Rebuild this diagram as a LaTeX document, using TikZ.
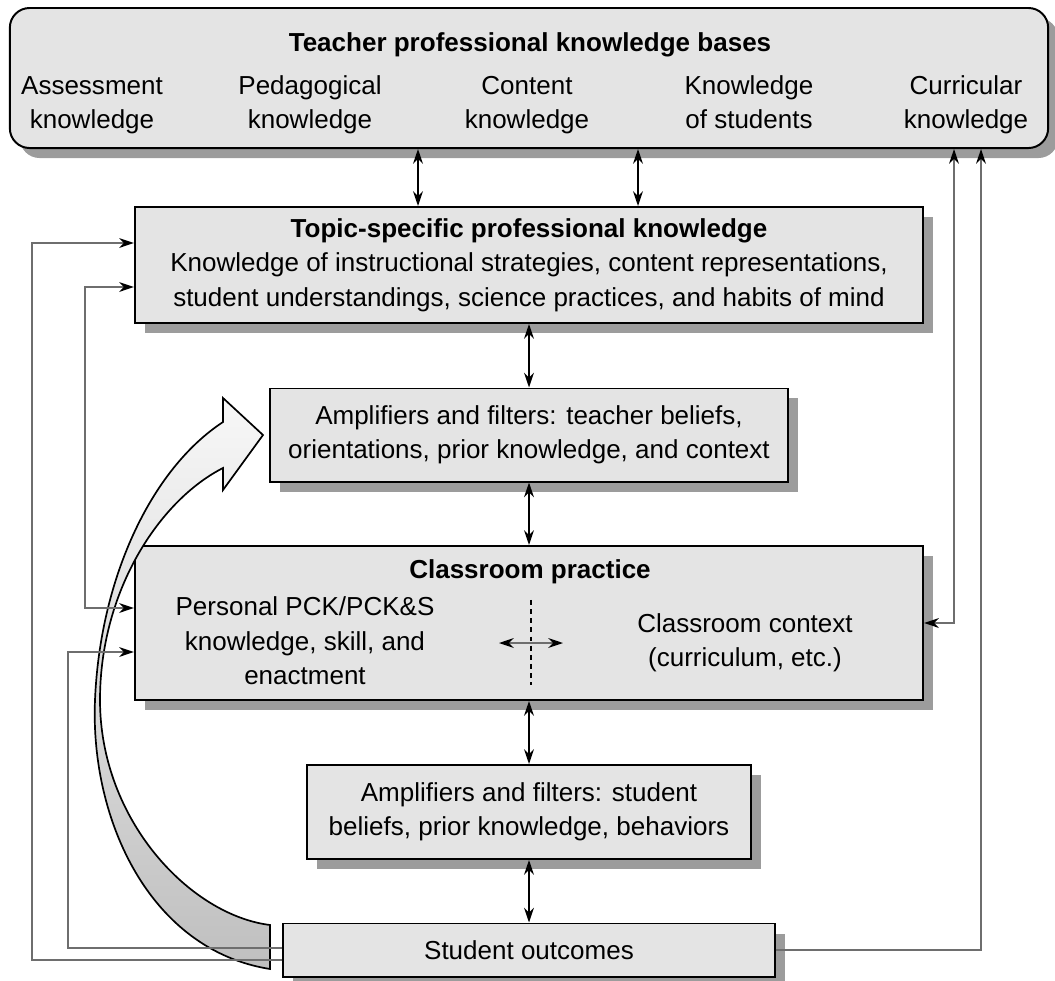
\documentclass[tikz,border=0pt]{standalone}
\usepackage{fontspec}
\setmainfont{Liberation Sans}
\usetikzlibrary{arrows.meta,shadows}
\definecolor{boxfill}{HTML}{E4E4E4}
\definecolor{shadowgray}{HTML}{9C9C9C}
\definecolor{linegray}{HTML}{6E6E6E}
\begin{document}
\begin{tikzpicture}[x=0.025cm,y=-0.025cm,
  box/.style={draw,fill=boxfill,line width=1.4pt,inner sep=0pt,
    drop shadow={shadow xshift=0.25cm,shadow yshift=-0.25cm,fill=shadowgray,opacity=1}},
  twoway/.style={line width=1.3pt,<->},
  back/.style={draw=linegray,line width=1.2pt},
  >={Stealth[length=10.5pt,width=7pt,color=black]}]
\fontsize{18.5}{24.5}\selectfont
\useasboundingbox (0,0) rectangle (1055,981);
% knowledge bases
\node[box,rounded corners=14pt,minimum width=25.95cm,minimum height=3.5cm] (bases) at (529,78) {};
\node[font=\bfseries] (title) at (530,45) {Teacher professional knowledge bases};
\node[align=center] (assess) at (92,105) {Assessment\\knowledge};
\node[align=center] (pedag) at (310,105) {Pedagogical\\knowledge};
\node[align=center] (content) at (527,105) {Content\\knowledge};
\node[align=center] (students) at (749,105) {Knowledge\\of students\vphantom{g}};
\node[align=center] (curric) at (966,105) {Curricular\\knowledge};
% boxes
\node[box,minimum width=19.7cm,minimum height=2.9cm,align=center] (topic) at (529,265)
  {\textbf{Topic-specific professional knowledge}\\Knowledge of instructional strategies, content representations,\\student understandings, science practices, and habits of mind};
\node[box,minimum width=12.925cm,minimum height=2.325cm,align=center] (amp1) at (529,435)
  {Amplifiers and filters: teacher beliefs,\\orientations, prior knowledge, and context};
\node[box,minimum width=19.7cm,minimum height=3.85cm] (class) at (529,623) {};
\node[font=\bfseries] (practice) at (530,572) {Classroom practice};
\node[align=center] (pck) at (305,641) {Personal PCK/PCK\&S\\knowledge, skill, and\\enactment};
\node[align=center] (context) at (745,643) {Classroom context\\(curriculum, etc.)};
\node[box,minimum width=11.1cm,minimum height=2.35cm,align=center] (amp2) at (529,812)
  {Amplifiers and filters: student\\beliefs, prior knowledge, behaviors};
\node[box,minimum width=12.275cm,minimum height=1.325cm] (outcome) at (529,950) {Student outcomes};
% big curved arrow
\shadedraw[top color=gray!6,bottom color=gray!50,draw=black,line width=1.2pt]
  (270,969) .. controls (150,950) and (90,820) .. (95,700)
  .. controls (100,580) and (150,470) .. (223,422) -- (223,398) -- (263,435)
  -- (223,490) -- (223,468) .. controls (160,500) and (100,590) .. (100,700)
  .. controls (100,820) and (190,915) .. (270,925) -- cycle;
% inside classroom practice
\coordinate (mid) at (531,643);
\draw[line width=1.5pt,dash pattern=on 3.5pt off 3pt] ([yshift=1.075cm]mid) -- ([yshift=-1.05cm]mid);
\draw[back,<->] ([xshift=-0.8cm]mid) -- ([xshift=0.8cm]mid);
% central arrows
\draw[twoway] (bases.south -| 418,0) -- (topic.north -| 418,0);
\draw[twoway] (bases.south -| 638,0) -- (topic.north -| 638,0);
\draw[twoway] (topic.south) -- (amp1.north);
\draw[twoway] (amp1.south) -- (class.north);
\draw[twoway] (class.south) -- (amp2.north);
\draw[twoway] (amp2.south) -- (outcome.north);
% feedback lines
\draw[back,->] (outcome.west |- 0,960) -- (32,960) -- (32,243) -- (topic.west |- 0,243);
\draw[back,->] (outcome.west |- 0,948) -| (68,652) -- (class.west |- 0,652);
\draw[back,<->] (topic.west |- 0,287) -| (85,608) -- (class.west |- 0,608);
\draw[back,<->] (bases.south -| 954,0) |- (class.east);
\draw[back,->] (outcome.east) -| (bases.south -| 981,0);
\end{tikzpicture}
\end{document}
